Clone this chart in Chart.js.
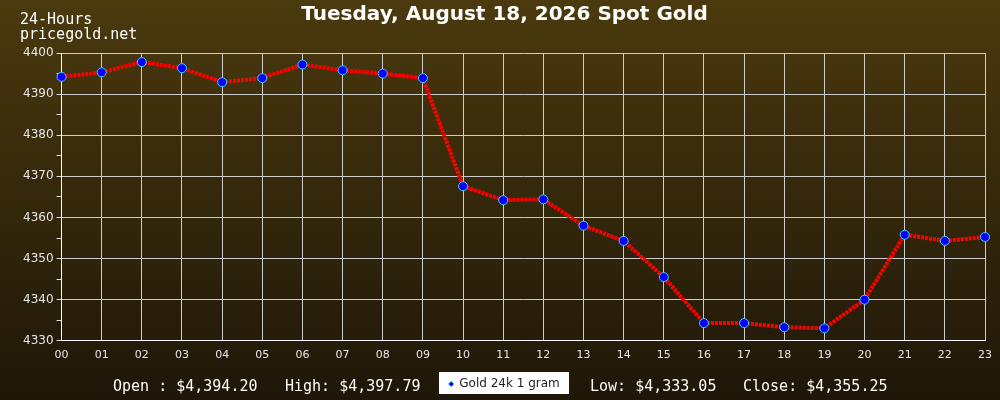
<!DOCTYPE html>
<html>
<head>
<meta charset="utf-8">
<script src="https://cdn.jsdelivr.net/npm/chart.js@4/dist/chart.umd.min.js"></script>
<style>
  html, body { margin: 0; padding: 0; background: #1e1608; }
  #wrap { width: 1000px; height: 400px; }
</style>
</head>
<body>
<div id="wrap"><canvas id="gold"></canvas></div>
<script>
var hours = ['00','01','02','03','04','05','06','07','08','09','10','11',
             '12','13','14','15','16','17','18','19','20','21','22','23'];
var prices = [4394.20, 4395.3, 4397.79, 4396.3, 4392.9, 4393.9, 4397.2, 4395.8,
              4395.0, 4393.9, 4367.6, 4364.2, 4364.4, 4358.0, 4354.3, 4345.5,
              4334.3, 4334.3, 4333.3, 4333.05, 4340.0, 4355.8, 4354.3, 4355.25];
var summary = [
  { text: 'Open : $4,394.20', x: 113 },
  { text: 'High: $4,397.79', x: 285 },
  { text: 'Low: $4,333.05', x: 590 },
  { text: 'Close: $4,355.25', x: 743 }
];
var mono = '"DejaVu Sans Mono", monospace';

var backdrop = {
  id: 'backdrop',
  beforeDraw: function (chart) {
    var c = chart.ctx;
    var g = c.createLinearGradient(0, 0, 0, chart.height);
    g.addColorStop(0, '#4b3a0e');
    g.addColorStop(1, '#1e1608');
    c.save();
    c.fillStyle = g;
    c.fillRect(0, 0, chart.width, chart.height);
    // white box behind the legend item
    var hb = chart.legend && chart.legend.legendHitBoxes && chart.legend.legendHitBoxes[0];
    if (hb) {
      var w = hb.width + 20;
      var cx = hb.left + hb.width / 2;
      var cy = hb.top + hb.height / 2;
      c.fillStyle = '#ffffff';
      c.fillRect(Math.round(cx - w / 2), Math.round(cy - 12), Math.round(w), 22);
    }
    c.restore();
  },
  afterDraw: function (chart) {
    var c = chart.ctx;
    c.save();
    c.fillStyle = '#ffffff';
    c.font = '15px ' + mono;
    c.textBaseline = 'alphabetic';
    c.fillText('24-Hours', 20, 24);
    c.fillText('pricegold.net', 20, 39);
    summary.forEach(function (s) { c.fillText(s.text, s.x, 391); });
    c.restore();
  }
};

var ctx = document.getElementById('gold').getContext('2d');
var chart = new Chart(ctx, {
  type: 'line',
  data: {
    labels: hours,
    datasets: [{
      label: 'Gold 24k 1 gram',
      data: prices,
      borderColor: '#ff0000',
      borderWidth: 4,
      borderDash: [3, 1],
      backgroundColor: '#0000ff',
      pointBackgroundColor: '#0000ff',
      pointBorderColor: '#44ccff',
      pointBorderWidth: 1,
      pointRadius: 4.5,
      tension: 0
    }]
  },
  options: {
    responsive: true,
    maintainAspectRatio: false,
    animation: false,
    devicePixelRatio: 1,
    layout: { padding: { left: 20, right: 11, top: 0, bottom: 0 } },
    plugins: {
      title: {
        display: true,
        text: 'Tuesday, August 18, 2026 Spot Gold',
        color: '#ffffff',
        font: { family: '"DejaVu Sans"', size: 20, weight: 'bold' },
        padding: { top: 3, bottom: 26 }
      },
      legend: {
        position: 'bottom',
        labels: {
          color: '#222222',
          font: { family: '"DejaVu Sans"', size: 12 },
          usePointStyle: true,
          pointStyle: 'rectRot',
          boxWidth: 4,
          boxHeight: 4,
          padding: 8
        }
      },
      tooltip: { enabled: false }
    },
    scales: {
      x: {
        offset: false,
        grid: { color: '#cccccc', lineWidth: 1, drawTicks: false },
        border: { color: '#ffffff' },
        ticks: {
          color: '#e6e6e6',
          font: { family: '"DejaVu Sans"', size: 11 },
          padding: 8,
          maxRotation: 0,
          autoSkip: false
        }
      },
      y: {
        min: 4330,
        max: 4400,
        grid: {
          color: function (c) { return c.tick && c.tick.value % 10 === 0 ? '#cccccc' : 'rgba(0,0,0,0)'; },
          tickColor: '#dddddd',
          tickLength: 5
        },
        border: { color: '#ffffff' },
        ticks: {
          stepSize: 5,
          color: '#e6e6e6',
          font: { family: '"DejaVu Sans"', size: 12 },
          padding: 3,
          callback: function (v) { return v % 10 === 0 ? v : ''; }
        }
      }
    }
  },
  plugins: [backdrop]
});
</script>
</body>
</html>
